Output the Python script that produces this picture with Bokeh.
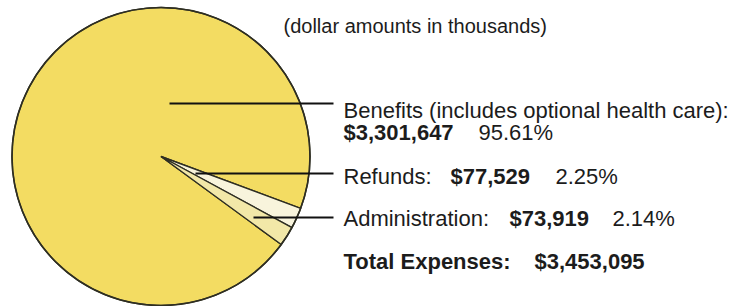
import numpy as np
from bokeh.plotting import figure
from bokeh.models import Range1d
from bokeh.core.properties import value
from bokeh.embed import file_html
from bokeh.resources import INLINE

# ---------------- data ----------------
categories = ["Benefits", "Refunds", "Administration"]
amounts = [3301647, 77529, 73919]
category_labels = ["Benefits (includes optional health care):", "Refunds:", "Administration:"]
total_label = "Total Expenses:"
subtitle = "(dollar amounts in thousands)"

# ---------------- style / layout ----------------
slice_colors = ["#f3dc62", "#f8f4dc", "#f2e8a8"]
edge_color = "#2e2e22"
text_color = "#1c1c1c"
FONT = value("Liberation Sans")
FS = "22px"

W, H = 730, 306
PAGE_H = 307


def Y(page_y):
    return PAGE_H - page_y


p = figure(width=W, height=H, x_range=Range1d(0, W), y_range=Range1d(Y(H), Y(0)),
           output_backend="svg", toolbar_location=None, min_border=0)
p.axis.visible = False
p.grid.visible = False
p.outline_line_color = None
p.background_fill_color = "white"
p.border_fill_color = "white"

# pie geometry (picture pixels)
cx, cy, r = 160.5, 156.0, 149.0
first_edge_deg = -20.4  # upper edge of the Refunds slice

total = float(sum(amounts))
fracs = [a / total for a in amounts]
starts = [0.0] * 3
ends = [0.0] * 3
ang = np.deg2rad(first_edge_deg)
for i in [1, 2, 0]:  # clockwise: Refunds, Administration, Benefits
    ends[i] = ang
    starts[i] = ang - fracs[i] * 2 * np.pi
    ang = starts[i]

p.wedge(x=[cx] * 3, y=[Y(cy)] * 3, radius=r, start_angle=starts, end_angle=ends,
        fill_color=slice_colors, line_color=edge_color, line_width=1.4, direction="anticlock")
p.circle(x=[cx], y=[Y(cy)], radius=r, fill_color=None, line_color=edge_color, line_width=1.6)

# leader lines (picture pixels)
lead_start_x = [169, 195, 253]
lead_y = [103, 173, 217]
lead_end_x = 333
p.segment(x0=lead_start_x, y0=[Y(v) for v in lead_y], x1=[lead_end_x] * 3, y1=[Y(v) for v in lead_y],
          line_color="#111111", line_width=1.8)

# texts
pcts = ["{:.2f}%".format(f * 100) for f in fracs]
money = ["${:,}".format(a) for a in amounts]
money_total = "${:,}".format(int(total))

tx = 343
normal_x = [tx, tx, tx, 478, 555, 612]
normal_y = [110, 176, 218, 132, 176, 218]
normal_t = [category_labels[0], category_labels[1], category_labels[2], pcts[0], pcts[1], pcts[2]]
p.text(x=normal_x, y=[Y(v) for v in normal_y], text=normal_t, text_font=FONT, text_font_size=FS,
       text_baseline="alphabetic", text_align="left", text_color=text_color)

bold_x = [tx, 450, 509, tx, 534]
bold_y = [132, 176, 218, 261, 261]
bold_t = [money[0], money[1], money[2], total_label, money_total]
p.text(x=bold_x, y=[Y(v) for v in bold_y], text=bold_t, text_font=FONT, text_font_size=FS,
       text_font_style="bold", text_baseline="alphabetic", text_align="left", text_color=text_color)

p.text(x=[283], y=[Y(25)], text=[subtitle], text_font=FONT, text_font_size="20px",
       text_baseline="alphabetic", text_align="left", text_color=text_color)

open("out.html", "w").write(file_html(p, INLINE))
